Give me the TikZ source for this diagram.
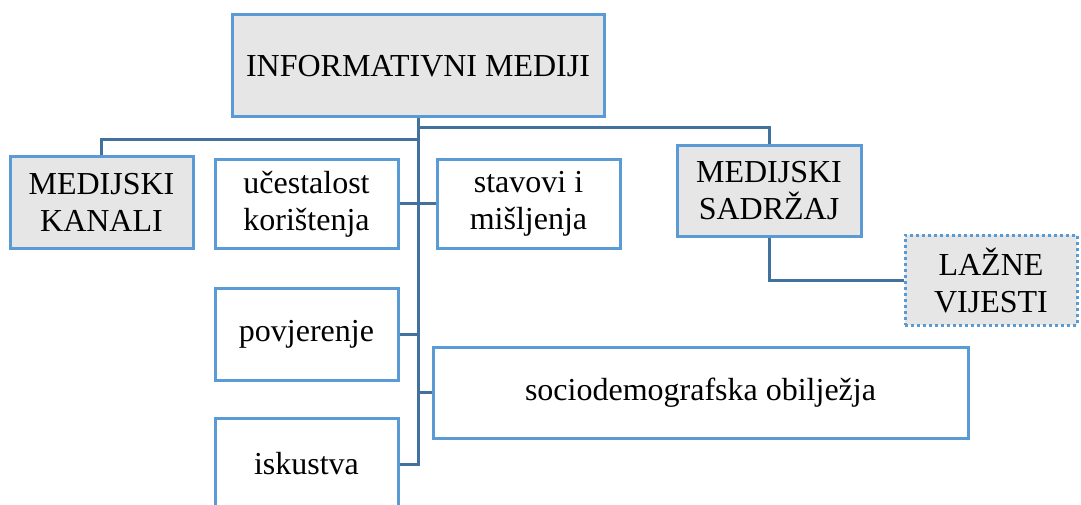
\documentclass[tikz,border=0pt]{standalone}
\usepackage{fontspec}
\setmainfont{Liberation Serif}
\usepackage{tikz}
\definecolor{boxblue}{HTML}{5B9BD5}
\definecolor{linkblue}{HTML}{41719C}
\definecolor{boxgray}{HTML}{E7E6E6}

\begin{document}
\begin{tikzpicture}[x=1pt,y=-1pt]
\tikzstyle{every node}+=[inner sep=0pt, align=center, font=\fontsize{32}{37}\selectfont]
\tikzstyle{box}=[draw=boxblue, line width=3pt, fill=white, rectangle]
\tikzstyle{graybox}=[box, fill=boxgray]
\tikzstyle{link}=[draw=linkblue, line width=3pt]
\clip (0,0) rectangle (1081,505);
\useasboundingbox (0,0) rectangle (1081,505);
\draw (418,66) node [graybox, minimum width=372pt, minimum height=102pt] (med) {INFORMATIVNI MEDIJI};
\draw (101.5,202.5) node [graybox, minimum width=183pt, minimum height=91pt] (kanali) {MEDIJSKI\\KANALI};
\draw (306.5,204) node [box, minimum width=183pt, minimum height=88pt] (ucest) {učestalost\\korištenja};
\draw (528.5,204) node [box, minimum width=183pt, minimum height=88pt] (stav) {stavovi i\\mišljenja};
\draw (769,191) node [graybox, minimum width=184pt, minimum height=90pt] (sadr) {MEDIJSKI\\SADRŽAJ};
\draw (991,280) node [graybox, dash pattern=on 3pt off 3pt, minimum width=172pt, minimum height=90pt] (lazne) {LAŽNE\\VIJESTI};
\draw (306.5,334) node [box, minimum width=183pt, minimum height=92pt] (povj) {povjerenje};
\draw (700.5,392.5) node [box, minimum width=535pt, minimum height=91pt] (socio) {sociodemografska obilježja};
\draw (306.5,464) node [box, minimum width=183pt, minimum height=92pt] (isk) {iskustva};
\draw [link] (med.south) -- ++(0,21) -| (kanali.north);
\draw [link] (med.south) -- ++(0,9) -| (sadr.north);
\draw [link] (med.south) |- (ucest.east);
\draw [link] (med.south) |- (stav.west);
\draw [link] (med.south) |- (povj.east);
\draw [link] (med.south) |- (socio.west);
\draw [link] (med.south) |- (isk.east);
\draw [link] (sadr.south) |- (lazne.west);
\end{tikzpicture}
\end{document}
